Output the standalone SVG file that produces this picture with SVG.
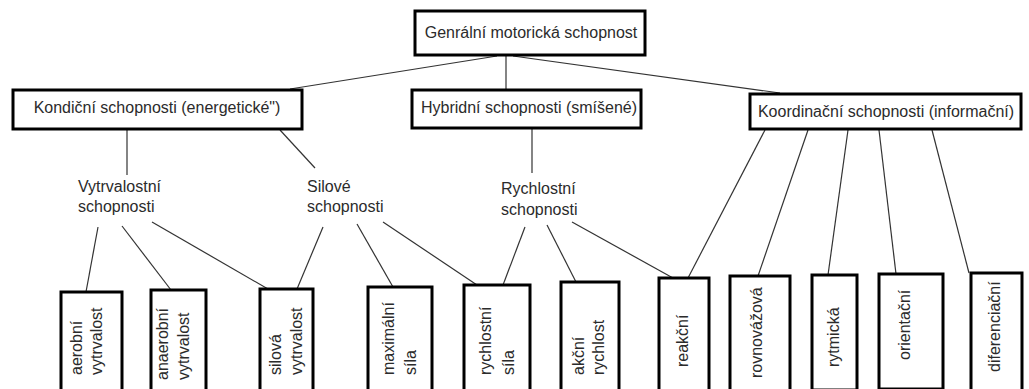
<svg xmlns="http://www.w3.org/2000/svg" width="1029" height="389" viewBox="0 0 1029 389">
<style>
.box{fill:#fff;stroke:#000;stroke-width:3}
.t{font-family:"Liberation Sans",Arial,sans-serif;font-size:16px;fill:#2b2b2b}
.c{text-anchor:middle}
.edge{stroke:#333;stroke-width:1.2;fill:none}
</style>
<rect width="1029" height="389" fill="#fff"/>
<g id="connectors">
<line class="edge" x1="497" y1="56" x2="290" y2="89"/>
<line class="edge" x1="506" y1="56" x2="506" y2="89"/>
<line class="edge" x1="513" y1="56" x2="780" y2="93"/>
<line class="edge" x1="127" y1="130" x2="127" y2="175"/>
<line class="edge" x1="280" y1="130" x2="315" y2="168"/>
<line class="edge" x1="532" y1="129" x2="532" y2="173"/>
<line class="edge" x1="98" y1="227" x2="86" y2="292"/>
<line class="edge" x1="122" y1="226" x2="171" y2="290"/>
<line class="edge" x1="152" y1="222" x2="268" y2="289"/>
<line class="edge" x1="323" y1="227" x2="297" y2="289"/>
<line class="edge" x1="357" y1="224" x2="393" y2="287"/>
<line class="edge" x1="383" y1="222" x2="477" y2="285"/>
<line class="edge" x1="525" y1="227" x2="503" y2="285"/>
<line class="edge" x1="547" y1="225" x2="576" y2="282"/>
<line class="edge" x1="572" y1="222" x2="673" y2="278"/>
<line class="edge" x1="765" y1="130" x2="688" y2="278"/>
<line class="edge" x1="808" y1="130" x2="758" y2="276"/>
<line class="edge" x1="848" y1="130" x2="828" y2="275"/>
<line class="edge" x1="879" y1="130" x2="896" y2="274"/>
<line class="edge" x1="932" y1="130" x2="969" y2="273"/>
</g>
<g id="n-general">
<rect class="box" x="415" y="11" width="230" height="44"/>
<text class="t c" x="531" y="38">Genrální motorická schopnost</text>
</g>
<g id="n-kondicni">
<rect class="box" x="13" y="90" width="289" height="39"/>
<text class="t c" x="157" y="113">Kondiční schopnosti (energetické")</text>
</g>
<g id="n-hybridni">
<rect class="box" x="412" y="90" width="229" height="38"/>
<text class="t c" x="529" y="113">Hybridní schopnosti (smíšené)</text>
</g>
<g id="n-koordinacni">
<rect class="box" x="750" y="94" width="271" height="35"/>
<text class="t c" x="886" y="117">Koordinační schopnosti (informační)</text>
</g>
<g id="n-vytrvalostni">
<text class="t" x="78" y="192">Vytrvalostní</text>
<text class="t" x="78" y="212">schopnosti</text>
</g>
<g id="n-silove">
<text class="t" x="307" y="192">Silové</text>
<text class="t" x="307" y="212">schopnosti</text>
</g>
<g id="n-rychlostni">
<text class="t" x="501" y="194">Rychlostní</text>
<text class="t" x="501" y="215">schopnosti</text>
</g>
<g id="n-aerobni">
<rect class="box" x="61" y="292" width="61" height="110"/>
<text class="t" transform="translate(82,375) rotate(-90)">aerobní</text>
<text class="t" transform="translate(102,375) rotate(-90)">vytrvalost</text>
</g>
<g id="n-anaerobni">
<rect class="box" x="151" y="290" width="55" height="110"/>
<text class="t" transform="translate(168,380) rotate(-90)">anaerobní</text>
<text class="t" transform="translate(189,380) rotate(-90)">vytrvalost</text>
</g>
<g id="n-silova">
<rect class="box" x="260" y="289" width="53" height="110"/>
<text class="t" transform="translate(281,375) rotate(-90)">silová</text>
<text class="t" transform="translate(302,375) rotate(-90)">vytrvalost</text>
</g>
<g id="n-maximalni">
<rect class="box" x="368" y="287" width="64" height="110"/>
<text class="t" transform="translate(394,375) rotate(-90)">maximální</text>
<text class="t" transform="translate(416,375) rotate(-90)">síla</text>
</g>
<g id="n-rychlostni-sila">
<rect class="box" x="464" y="285" width="66" height="110"/>
<text class="t" transform="translate(491,375) rotate(-90)">rychlostní</text>
<text class="t" transform="translate(514,375) rotate(-90)">síla</text>
</g>
<g id="n-akcni">
<rect class="box" x="561" y="282" width="58" height="110"/>
<text class="t" transform="translate(584,375) rotate(-90)">akční</text>
<text class="t" transform="translate(604,375) rotate(-90)">rychlost</text>
</g>
<g id="n-reakcni">
<rect class="box" x="659" y="278" width="50" height="115"/>
<text class="t" transform="translate(688,367) rotate(-90)">reakční</text>
</g>
<g id="n-rovnovahova">
<rect class="box" x="730" y="276" width="60" height="115"/>
<text class="t" transform="translate(762,378) rotate(-90)">rovnovážová</text>
</g>
<g id="n-rytmicka">
<rect class="box" x="812" y="275" width="45" height="115"/>
<text class="t" transform="translate(839,367) rotate(-90)">rytmická</text>
</g>
<g id="n-orientacni">
<rect class="box" x="879" y="274" width="64" height="115"/>
<text class="t" transform="translate(910,360) rotate(-90)">orientační</text>
</g>
<g id="n-diferenciacni">
<rect class="box" x="971" y="273" width="51" height="120"/>
<text class="t" transform="translate(1000,372) rotate(-90)">diferenciační</text>
</g>
</svg>
